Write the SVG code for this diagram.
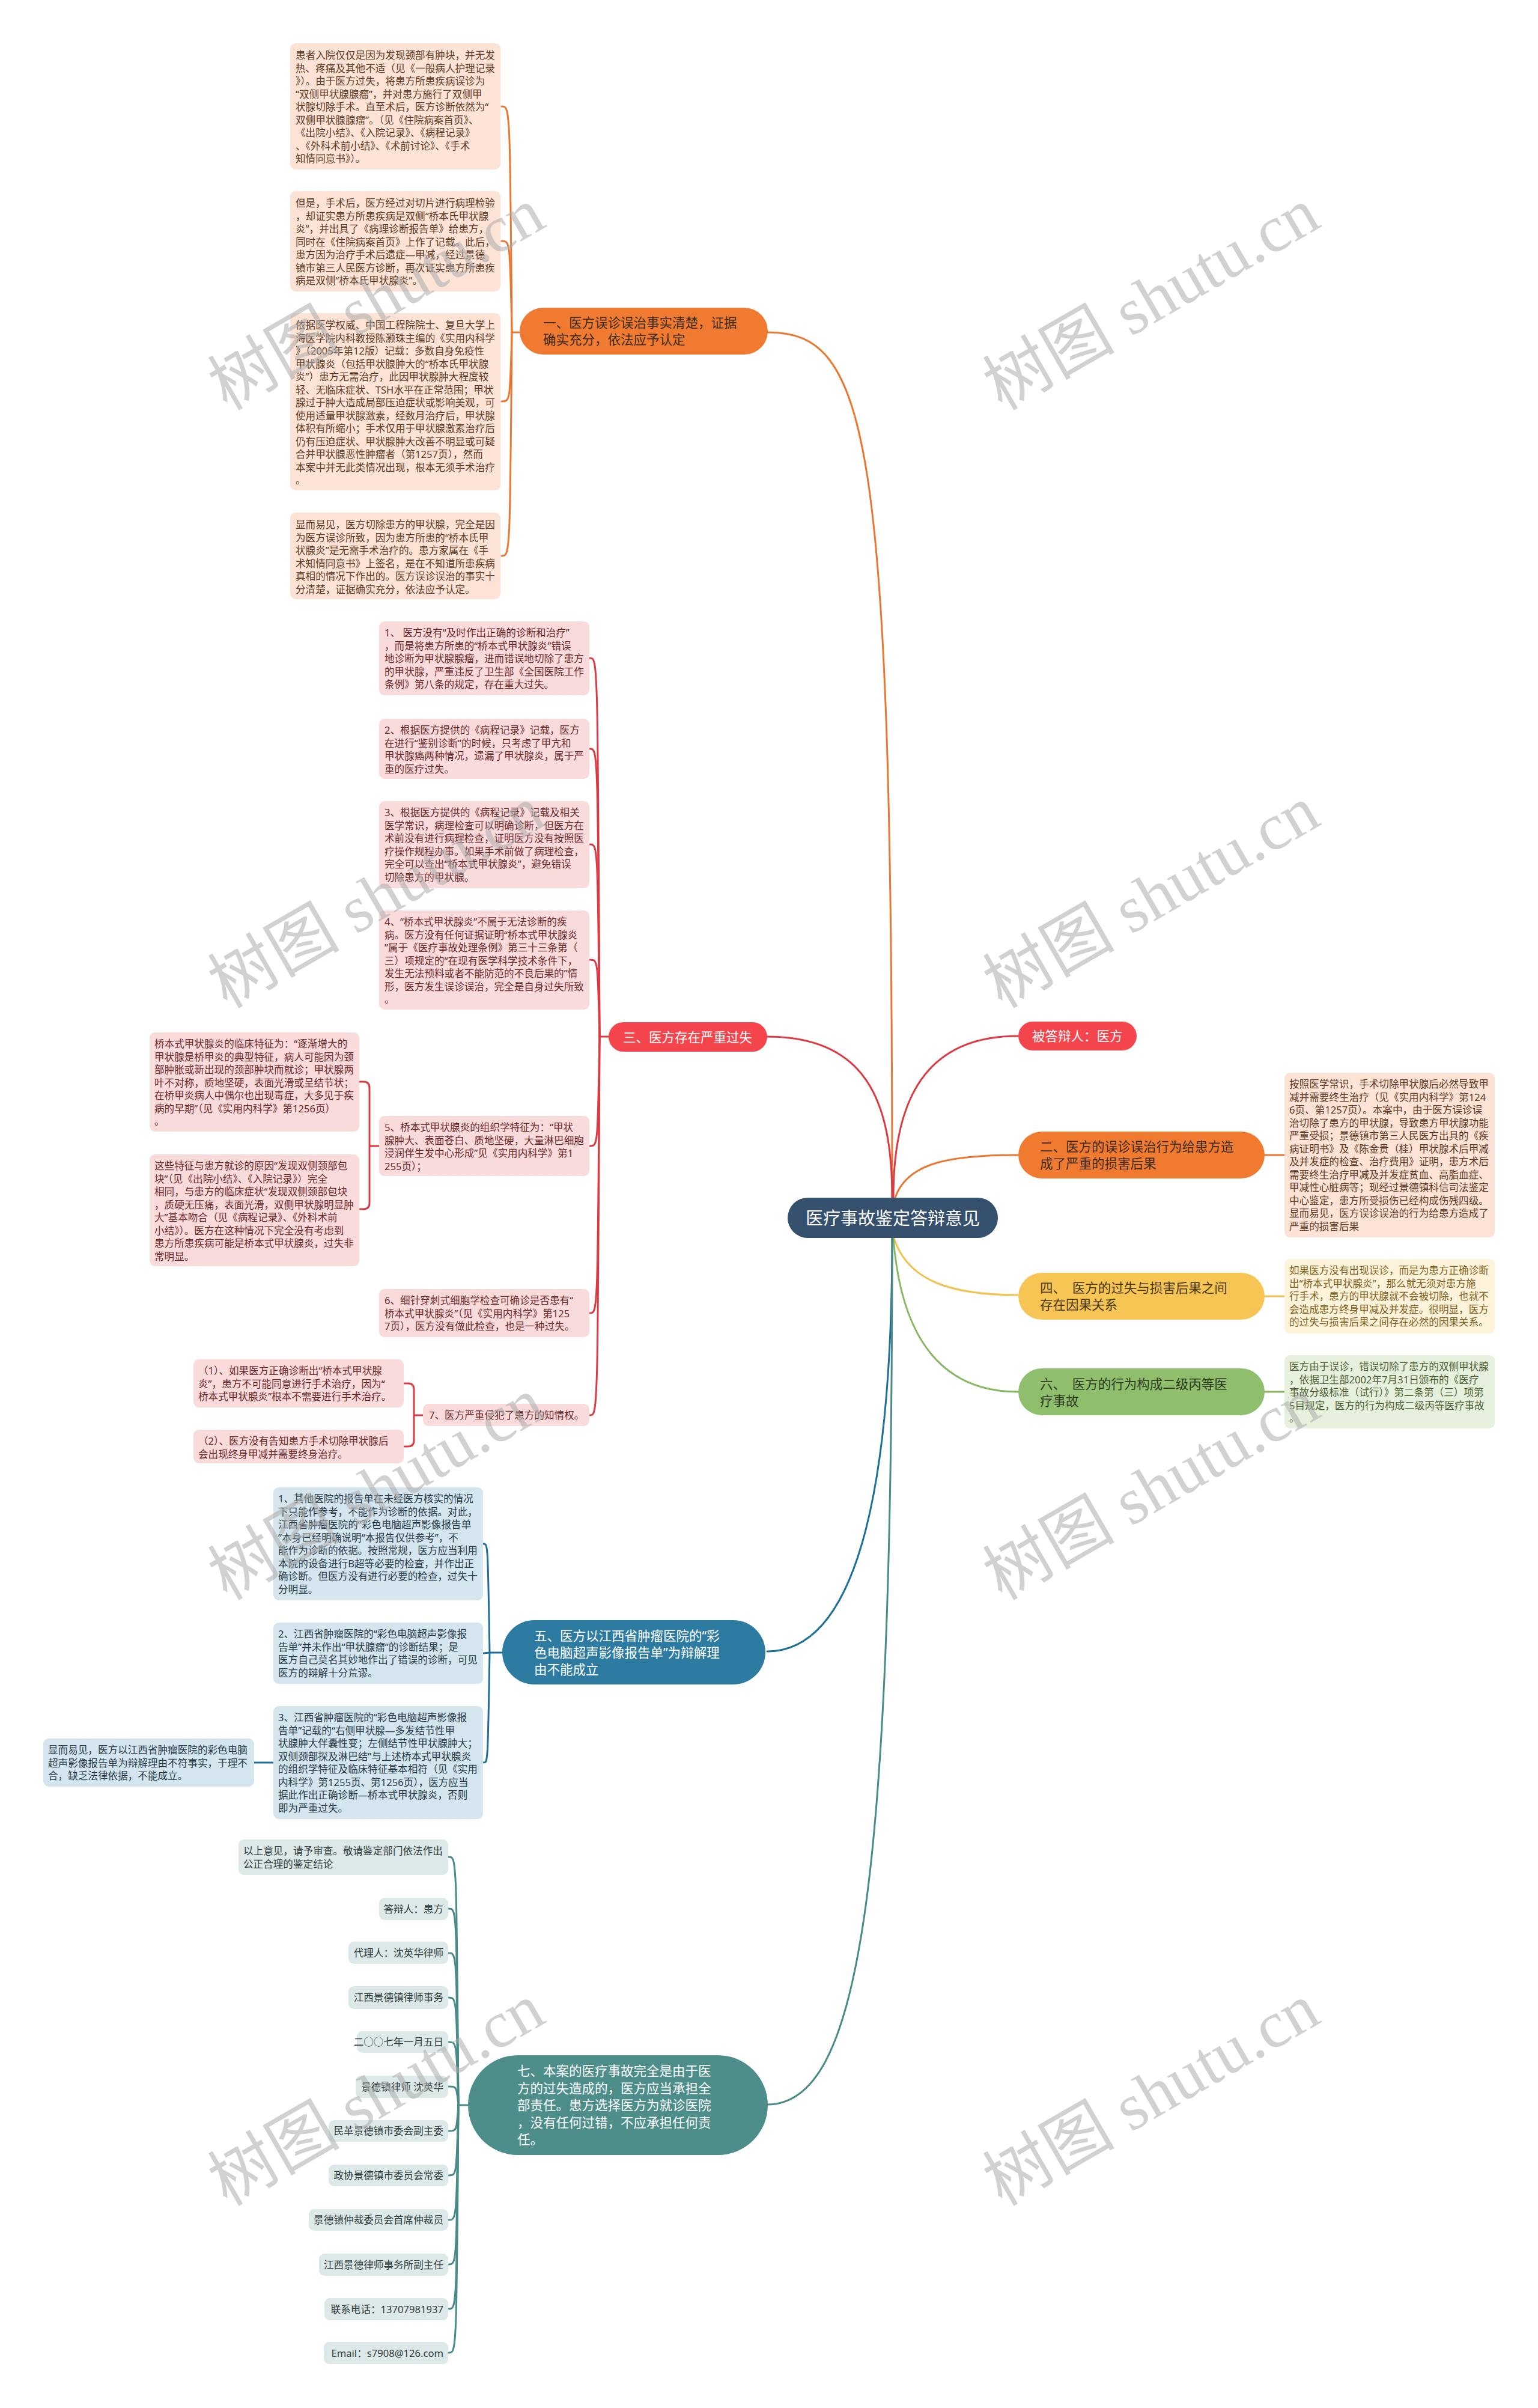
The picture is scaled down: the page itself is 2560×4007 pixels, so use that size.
<svg xmlns="http://www.w3.org/2000/svg" width="2560" height="4007" viewBox="0 0 2560 4007">
<style>
text{font-family:"Noto Sans","Noto Sans CJK SC",sans-serif}
.lf{font-size:16.6px}
.mt{font-size:21.5px}
.c{fill:none;stroke-width:3;stroke-linecap:round}
.o{stroke:#e9772f}.r{stroke:#dc3a42}.y{stroke:#f2c250}.g{stroke:#89b865}.b{stroke:#1f6f98}.t{stroke:#4a8a87}
.pe{fill:#fde3d5}.pk{fill:#fadbdc}.yl{fill:#fdf2da}.gl{fill:#e6f0dc}.bl{fill:#d5e5ee}.tl{fill:#dde9e8}
.tpe{fill:#5c3a25}.tpk{fill:#6a2a2a}.tyl{fill:#7d6220}.tgl{fill:#4e5e34}.tbl{fill:#263a48}.ttl{fill:#2f3b3a}
.wm{font-family:"Liberation Serif","Noto Sans CJK SC",serif;font-size:110px;fill:#ababab;fill-opacity:0.55}
</style>
<rect width="2560" height="4007" fill="#ffffff"/>

<g id="connectors">
<path class="c o" d="M1278,553 C1445,553 1485,720 1485,1993"/>
<path class="c r" d="M1277,1725 C1440,1725 1485,1830 1485,1993"/>
<path class="c r" d="M1694,1724 C1540,1724 1487,1830 1487,1993"/>
<path class="c o" d="M1490,1993 C1510,1935 1580,1922 1694,1922"/>
<path class="c y" d="M1488,2060 C1510,2130 1580,2155 1694,2155"/>
<path class="c g" d="M1487,2060 C1500,2230 1570,2316 1694,2316"/>
<path class="c b" d="M1485,2060 C1485,2500 1420,2748 1277,2748"/>
<path class="c t" d="M1485,2060 C1485,3150 1430,3502 1277,3502"/>
<path class="c o" d="M2105,1922 L2138,1922"/>
<path class="c y" d="M2105,2157 L2138,2157"/>
<path class="c g" d="M2105,2316 L2138,2316"/>
<path class="c o" d="M865,553 L852,553"/>
<path class="c o" d="M852,553 C849,177 849,177 835,177"/>
<path class="c o" d="M852,553 C849,401 849,401 835,401"/>
<path class="c o" d="M852,553 C849,668 849,668 835,668"/>
<path class="c o" d="M852,553 C849,925 849,925 835,925"/>
<path class="c r" d="M1013,1725 L998,1725"/>
<path class="c r" d="M998,1725 C995,1095 995,1095 982,1095"/>
<path class="c r" d="M998,1725 C995,1246 995,1246 982,1246"/>
<path class="c r" d="M998,1725 C995,1405 995,1405 982,1405"/>
<path class="c r" d="M998,1725 C995,1597 995,1597 982,1597"/>
<path class="c r" d="M998,1725 C995,1907 995,1907 982,1907"/>
<path class="c r" d="M998,1725 C995,2185 995,2185 982,2185"/>
<path class="c r" d="M998,1725 C995,2355 995,2355 982,2355"/>
<path class="c r" d="M631,1907 L615,1907 M599,1800 L605,1800 Q615,1800 615,1810 L615,2002 Q615,2012 605,2012 L599,2012"/>
<path class="c r" d="M704,2355 L689,2355 M673,2302 L679,2302 Q689,2302 689,2312 L689,2397 Q689,2407 679,2407 L673,2407"/>
<path class="c b" d="M836,2750 L815,2750"/>
<path class="c b" d="M815,2750 C812,2569 812,2569 805,2569"/>
<path class="c b" d="M815,2750 L805,2751"/>
<path class="c b" d="M815,2750 C812,2933 812,2933 805,2933"/>
<path class="c b" d="M423,2933 L455,2933"/>
<path class="c t" d="M779,3503 L763,3503"/>
<path class="c t" d="M763,3503 C760,3090 760,3090 747,3090"/>
<path class="c t" d="M763,3503 C760,3176 760,3176 747,3176"/>
<path class="c t" d="M763,3503 C760,3250 760,3250 747,3250"/>
<path class="c t" d="M763,3503 C760,3324 760,3324 747,3324"/>
<path class="c t" d="M763,3503 C760,3398 760,3398 747,3398"/>
<path class="c t" d="M763,3503 C760,3472 760,3472 747,3472"/>
<path class="c t" d="M763,3503 C760,3546 760,3546 747,3546"/>
<path class="c t" d="M763,3503 C760,3620 760,3620 747,3620"/>
<path class="c t" d="M763,3503 C760,3694 760,3694 747,3694"/>
<path class="c t" d="M763,3503 C760,3768 760,3768 747,3768"/>
<path class="c t" d="M763,3503 C760,3842 760,3842 747,3842"/>
<path class="c t" d="M763,3503 C760,3915 760,3915 747,3915"/>
</g>

<g id="root">
<rect x="1311" y="1993" width="350" height="67" rx="33.5" fill="#36516e"/>
<text x="1486" y="2038" text-anchor="middle" font-size="29" fill="#ffffff">医疗事故鉴定答辩意见</text>
</g>

<g id="n-defendant">
<rect x="1695" y="1700" width="197" height="48" rx="24" fill="#f4444c"/>
<text class="mt" x="1718" y="1731.5" fill="#ffffff">被答辩人：医方</text>
</g>

<g id="n-2">
<rect x="1695" y="1883" width="410" height="78" rx="39" fill="#f07b30"/>
<text class="mt" fill="#3d2b1f"><tspan x="1731" y="1916">二、医方的误诊误治行为给患方造</tspan><tspan x="1731" y="1944">成了严重的损害后果</tspan></text>
</g>
<g id="n-2-1">
<rect class="pe" x="2138" y="1785" width="350" height="274" rx="9"/>
<text class="lf tpe"><tspan x="2146" y="1810">按照医学常识，手术切除甲状腺后必然导致甲</tspan><tspan x="2146" dy="21.5">减并需要终生治疗（见《实用内科学》第124</tspan><tspan x="2146" dy="21.5">6页、第1257页）。本案中，由于医方误诊误</tspan><tspan x="2146" dy="21.5">治切除了患方的甲状腺，导致患方甲状腺功能</tspan><tspan x="2146" dy="21.5">严重受损；景德镇市第三人民医方出具的《疾</tspan><tspan x="2146" dy="21.5">病证明书》及《陈金贵（桂）甲状腺术后甲减</tspan><tspan x="2146" dy="21.5">及并发症的检查、治疗费用》证明，患方术后</tspan><tspan x="2146" dy="21.5">需要终生治疗甲减及并发症贫血、高脂血症、</tspan><tspan x="2146" dy="21.5">甲减性心脏病等；现经过景德镇科信司法鉴定</tspan><tspan x="2146" dy="21.5">中心鉴定，患方所受损伤已经构成伤残四级。</tspan><tspan x="2146" dy="21.5">显而易见，医方误诊误治的行为给患方造成了</tspan><tspan x="2146" dy="21.5">严重的损害后果</tspan></text>
</g>

<g id="n-4">
<rect x="1695" y="2118" width="410" height="78" rx="39" fill="#f7c553"/>
<text class="mt" fill="#4a3a1a"><tspan x="1731" y="2150.5">四、　医方的过失与损害后果之间</tspan><tspan x="1731" y="2179">存在因果关系</tspan></text>
</g>
<g id="n-4-1">
<rect class="yl" x="2138" y="2095" width="350" height="124" rx="9"/>
<text class="lf tyl"><tspan x="2146" y="2120">如果医方没有出现误诊，而是为患方正确诊断</tspan><tspan x="2146" dy="21.5">出“桥本式甲状腺炎”，那么就无须对患方施</tspan><tspan x="2146" dy="21.5">行手术，患方的甲状腺就不会被切除，也就不</tspan><tspan x="2146" dy="21.5">会造成患方终身甲减及并发症。很明显，医方</tspan><tspan x="2146" dy="21.5">的过失与损害后果之间存在必然的因果关系。</tspan></text>
</g>

<g id="n-6">
<rect x="1695" y="2277" width="410" height="78" rx="39" fill="#8fbf6c"/>
<text class="mt" fill="#2e3a22"><tspan x="1731" y="2311">六、　医方的行为构成二级丙等医</tspan><tspan x="1731" y="2339">疗事故</tspan></text>
</g>
<g id="n-6-1">
<rect class="gl" x="2138" y="2255" width="350" height="122" rx="9"/>
<text class="lf tgl"><tspan x="2146" y="2280">医方由于误诊，错误切除了患方的双侧甲状腺</tspan><tspan x="2146" dy="21.5">，依据卫生部2002年7月31日颁布的《医疗</tspan><tspan x="2146" dy="21.5">事故分级标准（试行）》第二条第（三）项第</tspan><tspan x="2146" dy="21.5">5目规定，医方的行为构成二级丙等医疗事故</tspan><tspan x="2146" dy="21.5">。</tspan></text>
</g>

<g id="n-1">
<rect x="865" y="512" width="413" height="78" rx="39" fill="#f07b30"/>
<text class="mt" fill="#3d2b1f"><tspan x="904" y="545">一、医方误诊误治事实清楚，证据</tspan><tspan x="904" y="573">确实充分，依法应予认定</tspan></text>
</g>
<g id="n-1-1">
<rect class="pe" x="483" y="72" width="350" height="210" rx="9"/>
<text class="lf tpe"><tspan x="492" y="98">患者入院仅仅是因为发现颈部有肿块，并无发</tspan><tspan x="492" dy="21.5">热、疼痛及其他不适（见《一般病人护理记录</tspan><tspan x="492" dy="21.5">》）。由于医方过失，将患方所患疾病误诊为</tspan><tspan x="492" dy="21.5">“双侧甲状腺腺瘤”，并对患方施行了双侧甲</tspan><tspan x="492" dy="21.5">状腺切除手术。直至术后，医方诊断依然为“</tspan><tspan x="492" dy="21.5">双侧甲状腺腺瘤”。（见《住院病案首页》、</tspan><tspan x="492" dy="21.5">《出院小结》、《入院记录》、《病程记录》</tspan><tspan x="492" dy="21.5">、《外科术前小结》、《术前讨论》、《手术</tspan><tspan x="492" dy="21.5">知情同意书》）。</tspan></text>
</g>
<g id="n-1-2">
<rect class="pe" x="483" y="318" width="350" height="167" rx="9"/>
<text class="lf tpe"><tspan x="492" y="344">但是，手术后，医方经过对切片进行病理检验</tspan><tspan x="492" dy="21.5">，却证实患方所患疾病是双侧“桥本氏甲状腺</tspan><tspan x="492" dy="21.5">炎”，并出具了《病理诊断报告单》给患方，</tspan><tspan x="492" dy="21.5">同时在《住院病案首页》上作了记载。此后，</tspan><tspan x="492" dy="21.5">患方因为治疗手术后遗症—甲减，经过景德</tspan><tspan x="492" dy="21.5">镇市第三人民医方诊断，再次证实患方所患疾</tspan><tspan x="492" dy="21.5">病是双侧“桥本氏甲状腺炎”。</tspan></text>
</g>
<g id="n-1-3">
<rect class="pe" x="483" y="521" width="350" height="295" rx="9"/>
<text class="lf tpe"><tspan x="492" y="547">依据医学权威、中国工程院院士、复旦大学上</tspan><tspan x="492" dy="21.5">海医学院内科教授陈灏珠主编的《实用内科学</tspan><tspan x="492" dy="21.5">》（2005年第12版）记载：多数自身免疫性</tspan><tspan x="492" dy="21.5">甲状腺炎（包括甲状腺肿大的“桥本氏甲状腺</tspan><tspan x="492" dy="21.5">炎”）患方无需治疗，此因甲状腺肿大程度较</tspan><tspan x="492" dy="21.5">轻、无临床症状、TSH水平在正常范围；甲状</tspan><tspan x="492" dy="21.5">腺过于肿大造成局部压迫症状或影响美观，可</tspan><tspan x="492" dy="21.5">使用适量甲状腺激素，经数月治疗后，甲状腺</tspan><tspan x="492" dy="21.5">体积有所缩小；手术仅用于甲状腺激素治疗后</tspan><tspan x="492" dy="21.5">仍有压迫症状、甲状腺肿大改善不明显或可疑</tspan><tspan x="492" dy="21.5">合并甲状腺恶性肿瘤者（第1257页），然而</tspan><tspan x="492" dy="21.5">本案中并无此类情况出现，根本无须手术治疗</tspan><tspan x="492" dy="21.5">。</tspan></text>
</g>
<g id="n-1-4">
<rect class="pe" x="483" y="853" width="350" height="144" rx="9"/>
<text class="lf tpe"><tspan x="492" y="879">显而易见，医方切除患方的甲状腺，完全是因</tspan><tspan x="492" dy="21.5">为医方误诊所致，因为患方所患的“桥本氏甲</tspan><tspan x="492" dy="21.5">状腺炎”是无需手术治疗的。患方家属在《手</tspan><tspan x="492" dy="21.5">术知情同意书》上签名，是在不知道所患疾病</tspan><tspan x="492" dy="21.5">真相的情况下作出的。医方误诊误治的事实十</tspan><tspan x="492" dy="21.5">分清楚，证据确实充分，依法应予认定。</tspan></text>
</g>

<g id="n-3">
<rect x="1013" y="1701" width="264" height="49" rx="24.5" fill="#f4444c"/>
<text class="mt" x="1037" y="1733.5" fill="#ffffff">三、医方存在严重过失</text>
</g>
<g id="n-3-1">
<rect class="pk" x="631" y="1034" width="350" height="123" rx="9"/>
<text class="lf tpk"><tspan x="640" y="1059">1、 医方没有“及时作出正确的诊断和治疗”</tspan><tspan x="640" dy="21.5">，而是将患方所患的“桥本式甲状腺炎”错误</tspan><tspan x="640" dy="21.5">地诊断为甲状腺腺瘤，进而错误地切除了患方</tspan><tspan x="640" dy="21.5">的甲状腺，严重违反了卫生部《全国医院工作</tspan><tspan x="640" dy="21.5">条例》第八条的规定，存在重大过失。</tspan></text>
</g>
<g id="n-3-2">
<rect class="pk" x="631" y="1196" width="350" height="100" rx="9"/>
<text class="lf tpk"><tspan x="640" y="1221">2、根据医方提供的《病程记录》记载，医方</tspan><tspan x="640" dy="21.5">在进行“鉴别诊断”的时候，只考虑了甲亢和</tspan><tspan x="640" dy="21.5">甲状腺癌两种情况，遗漏了甲状腺炎，属于严</tspan><tspan x="640" dy="21.5">重的医疗过失。</tspan></text>
</g>
<g id="n-3-3">
<rect class="pk" x="631" y="1333" width="350" height="145" rx="9"/>
<text class="lf tpk"><tspan x="640" y="1358">3、根据医方提供的《病程记录》记载及相关</tspan><tspan x="640" dy="21.5">医学常识，病理检查可以明确诊断，但医方在</tspan><tspan x="640" dy="21.5">术前没有进行病理检查，证明医方没有按照医</tspan><tspan x="640" dy="21.5">疗操作规程办事。如果手术前做了病理检查，</tspan><tspan x="640" dy="21.5">完全可以查出“桥本式甲状腺炎”，避免错误</tspan><tspan x="640" dy="21.5">切除患方的甲状腺。</tspan></text>
</g>
<g id="n-3-4">
<rect class="pk" x="631" y="1515" width="350" height="165" rx="9"/>
<text class="lf tpk"><tspan x="640" y="1540">4、“桥本式甲状腺炎”不属于无法诊断的疾</tspan><tspan x="640" dy="21.5">病。医方没有任何证据证明“桥本式甲状腺炎</tspan><tspan x="640" dy="21.5">”属于《医疗事故处理条例》第三十三条第（</tspan><tspan x="640" dy="21.5">三）项规定的“在现有医学科学技术条件下，</tspan><tspan x="640" dy="21.5">发生无法预料或者不能防范的不良后果的”情</tspan><tspan x="640" dy="21.5">形，医方发生误诊误治，完全是自身过失所致</tspan><tspan x="640" dy="21.5">。</tspan></text>
</g>
<g id="n-3-5">
<rect class="pk" x="631" y="1857" width="350" height="100" rx="9"/>
<text class="lf tpk"><tspan x="640" y="1882">5、桥本式甲状腺炎的组织学特征为：“甲状</tspan><tspan x="640" dy="21.5">腺肿大、表面苍白、质地坚硬，大量淋巴细胞</tspan><tspan x="640" dy="21.5">浸润伴生发中心形成”见《实用内科学》第1</tspan><tspan x="640" dy="21.5">255页）；</tspan></text>
</g>
<g id="n-3-5-1">
<rect class="pk" x="249" y="1718" width="349" height="165" rx="9"/>
<text class="lf tpk"><tspan x="257" y="1743">桥本式甲状腺炎的临床特征为：“逐渐增大的</tspan><tspan x="257" dy="21.5">甲状腺是桥甲炎的典型特征，病人可能因为颈</tspan><tspan x="257" dy="21.5">部肿胀或新出现的颈部肿块而就诊；甲状腺两</tspan><tspan x="257" dy="21.5">叶不对称，质地坚硬，表面光滑或呈结节状；</tspan><tspan x="257" dy="21.5">在桥甲炎病人中偶尔也出现毒症，大多见于疾</tspan><tspan x="257" dy="21.5">病的早期”（见《实用内科学》第1256页）</tspan><tspan x="257" dy="21.5">。</tspan></text>
</g>
<g id="n-3-5-2">
<rect class="pk" x="249" y="1921" width="349" height="186" rx="9"/>
<text class="lf tpk"><tspan x="257" y="1946">这些特征与患方就诊的原因“发现双侧颈部包</tspan><tspan x="257" dy="21.5">块”（见《出院小结》、《入院记录》）完全</tspan><tspan x="257" dy="21.5">相同，与患方的临床症状“发现双侧颈部包块</tspan><tspan x="257" dy="21.5">，质硬无压痛，表面光滑，双侧甲状腺明显肿</tspan><tspan x="257" dy="21.5">大”基本吻合（见《病程记录》、《外科术前</tspan><tspan x="257" dy="21.5">小结》）。医方在这种情况下完全没有考虑到</tspan><tspan x="257" dy="21.5">患方所患疾病可能是桥本式甲状腺炎，过失非</tspan><tspan x="257" dy="21.5">常明显。</tspan></text>
</g>
<g id="n-3-6">
<rect class="pk" x="631" y="2145" width="350" height="80" rx="9"/>
<text class="lf tpk"><tspan x="640" y="2170">6、细针穿刺式细胞学检查可确诊是否患有“</tspan><tspan x="640" dy="21.5">桥本式甲状腺炎”（见《实用内科学》第125</tspan><tspan x="640" dy="21.5">7页），医方没有做此检查，也是一种过失。</tspan></text>
</g>
<g id="n-3-7">
<rect class="pk" x="704" y="2336" width="277" height="37" rx="9"/>
<text class="lf tpk" x="714" y="2361">7、医方严重侵犯了患方的知情权。</text>
</g>
<g id="n-3-7-1">
<rect class="pk" x="322" y="2262" width="350" height="80" rx="9"/>
<text class="lf tpk"><tspan x="330" y="2287">（1）、如果医方正确诊断出“桥本式甲状腺</tspan><tspan x="330" dy="21.5">炎”，患方不可能同意进行手术治疗，因为“</tspan><tspan x="330" dy="21.5">桥本式甲状腺炎”根本不需要进行手术治疗。</tspan></text>
</g>
<g id="n-3-7-2">
<rect class="pk" x="322" y="2379" width="350" height="56" rx="9"/>
<text class="lf tpk"><tspan x="330" y="2404">（2）、医方没有告知患方手术切除甲状腺后</tspan><tspan x="330" dy="21.5">会出现终身甲减并需要终身治疗。</tspan></text>
</g>

<g id="n-5">
<rect x="836" y="2696" width="438" height="107" rx="53.5" fill="#2d7ba1"/>
<text class="mt" fill="#ffffff"><tspan x="889" y="2730">五、医方以江西省肿瘤医院的“彩</tspan><tspan x="889" y="2758">色电脑超声影像报告单”为辩解理</tspan><tspan x="889" y="2786">由不能成立</tspan></text>
</g>
<g id="n-5-1">
<rect class="bl" x="455" y="2475" width="349" height="188" rx="9"/>
<text class="lf tbl"><tspan x="463" y="2500">1、其他医院的报告单在未经医方核实的情况</tspan><tspan x="463" dy="21.5">下只能作参考，不能作为诊断的依据。对此，</tspan><tspan x="463" dy="21.5">江西省肿瘤医院的“彩色电脑超声影像报告单</tspan><tspan x="463" dy="21.5">”本身已经明确说明“本报告仅供参考”，不</tspan><tspan x="463" dy="21.5">能作为诊断的依据。按照常规，医方应当利用</tspan><tspan x="463" dy="21.5">本院的设备进行B超等必要的检查，并作出正</tspan><tspan x="463" dy="21.5">确诊断。但医方没有进行必要的检查，过失十</tspan><tspan x="463" dy="21.5">分明显。</tspan></text>
</g>
<g id="n-5-2">
<rect class="bl" x="455" y="2700" width="349" height="102" rx="9"/>
<text class="lf tbl"><tspan x="463" y="2725">2、江西省肿瘤医院的“彩色电脑超声影像报</tspan><tspan x="463" dy="21.5">告单”并未作出“甲状腺瘤”的诊断结果；是</tspan><tspan x="463" dy="21.5">医方自己莫名其妙地作出了错误的诊断，可见</tspan><tspan x="463" dy="21.5">医方的辩解十分荒谬。</tspan></text>
</g>
<g id="n-5-3">
<rect class="bl" x="455" y="2839" width="349" height="188" rx="9"/>
<text class="lf tbl"><tspan x="463" y="2864">3、江西省肿瘤医院的“彩色电脑超声影像报</tspan><tspan x="463" dy="21.5">告单”记载的“右侧甲状腺—多发结节性甲</tspan><tspan x="463" dy="21.5">状腺肿大伴囊性变；左侧结节性甲状腺肿大；</tspan><tspan x="463" dy="21.5">双侧颈部探及淋巴结”与上述桥本式甲状腺炎</tspan><tspan x="463" dy="21.5">的组织学特征及临床特征基本相符（见《实用</tspan><tspan x="463" dy="21.5">内科学》第1255页、第1256页），医方应当</tspan><tspan x="463" dy="21.5">据此作出正确诊断—桥本式甲状腺炎，否则</tspan><tspan x="463" dy="21.5">即为严重过失。</tspan></text>
</g>
<g id="n-5-3-1">
<rect class="bl" x="72" y="2893" width="351" height="80" rx="9"/>
<text class="lf tbl"><tspan x="80" y="2918">显而易见，医方以江西省肿瘤医院的彩色电脑</tspan><tspan x="80" dy="21.5">超声影像报告单为辩解理由不符事实，于理不</tspan><tspan x="80" dy="21.5">合，缺乏法律依据，不能成立。</tspan></text>
</g>

<g id="n-7">
<rect x="779" y="3420" width="499" height="166" rx="83" fill="#4d8e8b"/>
<text class="mt" fill="#ffffff"><tspan x="861" y="3454">七、本案的医疗事故完全是由于医</tspan><tspan x="861" y="3483">方的过失造成的，医方应当承担全</tspan><tspan x="861" y="3511">部责任。患方选择医方为就诊医院</tspan><tspan x="861" y="3540">，没有任何过错，不应承担任何责</tspan><tspan x="861" y="3568">任。</tspan></text>
</g>
<g id="n-7-1">
<rect class="tl" x="397" y="3061" width="349" height="59" rx="9"/>
<text class="lf ttl"><tspan x="405" y="3086">以上意见，请予审查。敬请鉴定部门依法作出</tspan><tspan x="405" dy="21.5">公正合理的鉴定结论</tspan></text>
</g>
<g id="n-7-2"><rect class="tl" x="631" y="3158" width="115" height="37" rx="9"/><text class="lf ttl" x="738" y="3182.5" text-anchor="end">答辩人：患方</text></g>
<g id="n-7-3"><rect class="tl" x="580" y="3231" width="166" height="37" rx="9"/><text class="lf ttl" x="738" y="3255.5" text-anchor="end">代理人：沈英华律师</text></g>
<g id="n-7-4"><rect class="tl" x="580" y="3305" width="166" height="38" rx="9"/><text class="lf ttl" x="738" y="3330" text-anchor="end">江西景德镇律师事务</text></g>
<g id="n-7-5"><rect class="tl" x="594" y="3380" width="152" height="36" rx="9"/><text class="lf ttl" x="738" y="3404" text-anchor="end">二○○七年一月五日</text></g>
<g id="n-7-6"><rect class="tl" x="592" y="3454" width="154" height="37" rx="9"/><text class="lf ttl" x="738" y="3478.5" text-anchor="end">景德镇律师 沈英华</text></g>
<g id="n-7-7"><rect class="tl" x="547" y="3528" width="199" height="36" rx="9"/><text class="lf ttl" x="738" y="3552" text-anchor="end">民革景德镇市委会副主委</text></g>
<g id="n-7-8"><rect class="tl" x="547" y="3602" width="199" height="36" rx="9"/><text class="lf ttl" x="738" y="3626" text-anchor="end">政协景德镇市委员会常委</text></g>
<g id="n-7-9"><rect class="tl" x="514" y="3676" width="232" height="36" rx="9"/><text class="lf ttl" x="738" y="3700" text-anchor="end">景德镇仲裁委员会首席仲裁员</text></g>
<g id="n-7-10"><rect class="tl" x="531" y="3750" width="215" height="37" rx="9"/><text class="lf ttl" x="738" y="3774.5" text-anchor="end">江西景德律师事务所副主任</text></g>
<g id="n-7-11"><rect class="tl" x="540" y="3824" width="206" height="37" rx="9"/><text class="lf ttl" x="738" y="3848.5" text-anchor="end">联系电话：13707981937</text></g>
<g id="n-7-12"><rect class="tl" x="539" y="3897" width="207" height="37" rx="9"/><text class="lf ttl" x="738" y="3921.5" text-anchor="end">Email：s7908@126.com</text></g>

<g id="watermarks">
<text class="wm" x="645" y="530" text-anchor="middle" transform="rotate(-30 645 530)">树图 shutu.cn</text>
<text class="wm" x="1935" y="530" text-anchor="middle" transform="rotate(-30 1935 530)">树图 shutu.cn</text>
<text class="wm" x="645" y="1525" text-anchor="middle" transform="rotate(-30 645 1525)">树图 shutu.cn</text>
<text class="wm" x="1935" y="1525" text-anchor="middle" transform="rotate(-30 1935 1525)">树图 shutu.cn</text>
<text class="wm" x="645" y="2510" text-anchor="middle" transform="rotate(-30 645 2510)">树图 shutu.cn</text>
<text class="wm" x="1935" y="2510" text-anchor="middle" transform="rotate(-30 1935 2510)">树图 shutu.cn</text>
<text class="wm" x="645" y="3518" text-anchor="middle" transform="rotate(-30 645 3518)">树图 shutu.cn</text>
<text class="wm" x="1935" y="3518" text-anchor="middle" transform="rotate(-30 1935 3518)">树图 shutu.cn</text>
</g>
</svg>
